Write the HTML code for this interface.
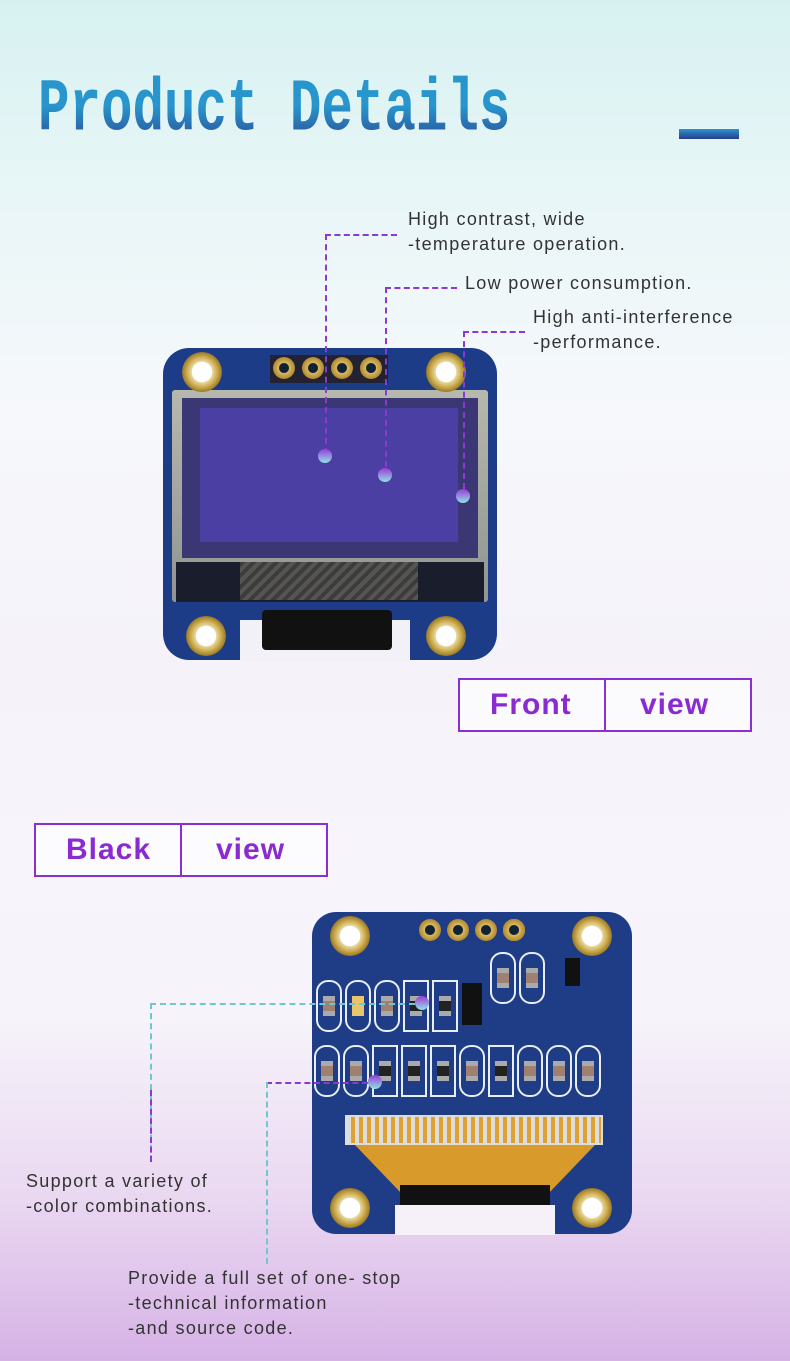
<!DOCTYPE html>
<html><head><meta charset="utf-8"><style>
*{margin:0;padding:0;box-sizing:border-box}
body{width:790px;height:1361px;position:relative;overflow:hidden;font-family:"Liberation Sans",sans-serif;
background:linear-gradient(180deg,#d7f1f1 0%,#e8f6f7 14%,#f6f8fb 30%,#f5f2f9 50%,#f7f5fb 62%,#f6f3fa 75%,#ead8f1 88%,#d6b2e6 100%)}
.abs{position:absolute}
.title{left:38px;top:68px;font-family:"Liberation Mono",monospace;font-weight:bold;font-size:66px;letter-spacing:0;white-space:nowrap;
background:linear-gradient(180deg,#2896cc 45%,#2a3a8c 100%);-webkit-background-clip:text;color:transparent;transform:scale(0.795,1.12);transform-origin:0 0}
.bar{left:679px;top:129px;width:60px;height:10px;background:linear-gradient(180deg,#2a96cc,#2a3a8c)}
.t{color:#333;font-size:18px;line-height:25px;letter-spacing:1.3px;white-space:nowrap}
.dash{border-color:#8a3ad0;border-style:dashed}
.dot{width:14px;height:14px;border-radius:50%;background:linear-gradient(180deg,#9b3bd6,#8fe1e6)}
.box{border:2px solid #8a30d0;height:54px;background:rgba(255,255,255,.6)}
.box span{position:absolute;top:8px;font-size:30px;font-weight:bold;color:#8a2ad0;letter-spacing:1px}
.hole{width:40px;height:40px;border-radius:50%;background:radial-gradient(circle,#fff 0 35%,#e8d9a0 37%,#c9a84a 55%,#9b7a2a 70%,#1e3d86 72%)}
.pin{width:22px;height:22px;border-radius:50%;background:radial-gradient(circle,#123 0 30%,#d8b860 34%,#b08a30 70%,#1e3d86 74%)}
.comp{width:26px;height:52px;border:2px solid #e8eef5;border-radius:12px;background:#1e3d86}
.comp i{position:absolute;left:5px;top:14px;width:12px;height:20px;background:#a08070;border-top:5px solid #aaa;border-bottom:5px solid #aaa}
</style></head><body>
<div class="abs title">Product Details</div>
<div class="abs bar"></div>

<div class="abs t" style="left:408px;top:207px">High contrast, wide<br>-temperature operation.</div>
<div class="abs t" style="left:465px;top:271px">Low power consumption.</div>
<div class="abs t" style="left:533px;top:305px">High anti-interference<br>-performance.</div>

<div class="abs" style="left:163px;top:348px;width:334px;height:312px;background:#1c3c88;border-radius:26px"></div>
<div class="abs" style="left:240px;top:620px;width:170px;height:42px;background:#f3f1f8"></div>
<div class="abs" style="left:262px;top:610px;width:130px;height:40px;background:#111;border-radius:4px"></div>
<div class="abs" style="left:172px;top:390px;width:316px;height:212px;background:linear-gradient(180deg,#b7b8ae,#8f9590);border-radius:3px"></div>
<div class="abs" style="left:182px;top:398px;width:296px;height:160px;background:#3b3774"></div>
<div class="abs" style="left:200px;top:408px;width:258px;height:134px;background:#4c3fa4"></div>
<div class="abs" style="left:176px;top:562px;width:308px;height:40px;background:#1a1e2c"></div>
<div class="abs" style="left:240px;top:562px;width:178px;height:38px;background:repeating-linear-gradient(135deg,#3d3c38 0 4px,#555 4px 8px)"></div>
<div class="abs hole" style="left:182px;top:352px"></div>
<div class="abs hole" style="left:426px;top:352px"></div>
<div class="abs hole" style="left:186px;top:616px"></div>
<div class="abs hole" style="left:426px;top:616px"></div>
<div class="abs" style="left:270px;top:355px;width:118px;height:28px;background:#223"></div>
<div class="abs pin" style="left:273px;top:357px"></div>
<div class="abs pin" style="left:302px;top:357px"></div>
<div class="abs pin" style="left:331px;top:357px"></div>
<div class="abs pin" style="left:360px;top:357px"></div>

<div class="abs dash" style="left:325px;top:234px;width:72px;height:220px;border-width:2px 0 0 2px"></div>
<div class="abs dash" style="left:385px;top:287px;width:72px;height:180px;border-width:2px 0 0 2px"></div>
<div class="abs dash" style="left:463px;top:331px;width:62px;height:158px;border-width:2px 0 0 2px"></div>
<div class="abs dot" style="left:318px;top:449px"></div>
<div class="abs dot" style="left:378px;top:468px"></div>
<div class="abs dot" style="left:456px;top:489px"></div>

<div class="abs box" style="left:458px;top:678px;width:148px"><span style="left:30px">Front</span></div>
<div class="abs box" style="left:604px;top:678px;width:148px"><span style="left:34px">view</span></div>
<div class="abs box" style="left:34px;top:823px;width:148px"><span style="left:30px">Black</span></div>
<div class="abs box" style="left:180px;top:823px;width:148px"><span style="left:34px">view</span></div>

<div class="abs" style="left:312px;top:912px;width:320px;height:322px;background:#1e3d86;border-radius:24px"></div>
<div class="abs hole" style="left:330px;top:916px"></div>
<div class="abs hole" style="left:572px;top:916px"></div>
<div class="abs hole" style="left:330px;top:1188px"></div>
<div class="abs hole" style="left:572px;top:1188px"></div>
<div class="abs pin" style="left:419px;top:919px"></div>
<div class="abs pin" style="left:447px;top:919px"></div>
<div class="abs pin" style="left:475px;top:919px"></div>
<div class="abs pin" style="left:503px;top:919px;border-radius:3px"></div>
<div class="abs" style="left:316px;top:980px;width:150px;height:60px">
<div class="abs comp" style="left:0;top:0"><i></i></div><div class="abs comp" style="left:29px;top:0"><i style="background:#e7c56a;border-color:#e7c56a"></i></div><div class="abs comp" style="left:58px;top:0"><i></i></div><div class="abs comp" style="left:87px;top:0;border-radius:0"><i style="background:#222"></i></div><div class="abs comp" style="left:116px;top:0;border-radius:0"><i style="background:#222"></i></div></div>
<div class="abs" style="left:462px;top:983px;width:20px;height:42px;background:#111"></div>
<div class="abs comp" style="left:490px;top:952px"><i></i></div>
<div class="abs comp" style="left:519px;top:952px"><i></i></div>
<div class="abs" style="left:565px;top:958px;width:15px;height:28px;background:#111"></div>
<div class="abs" style="left:314px;top:1045px;width:290px;height:60px">
<div class="abs comp" style="left:0"><i></i></div><div class="abs comp" style="left:29px"><i></i></div><div class="abs comp" style="left:58px;border-radius:0"><i style="background:#222"></i></div><div class="abs comp" style="left:87px;border-radius:0"><i style="background:#222"></i></div><div class="abs comp" style="left:116px;border-radius:0"><i style="background:#222"></i></div><div class="abs comp" style="left:145px"><i></i></div><div class="abs comp" style="left:174px;border-radius:0"><i style="background:#222"></i></div><div class="abs comp" style="left:203px"><i></i></div><div class="abs comp" style="left:232px"><i></i></div><div class="abs comp" style="left:261px"><i></i></div></div>
<div class="abs" style="left:345px;top:1115px;width:258px;height:30px;background:repeating-linear-gradient(90deg,#ddd 0 4px,#e0a030 4px 8px);border:2px solid #ddd"></div>
<div class="abs" style="left:355px;top:1145px;width:240px;height:50px;background:#d89a2a;clip-path:polygon(0 0,100% 0,80% 100%,20% 100%)"></div>
<div class="abs" style="left:400px;top:1185px;width:150px;height:22px;background:#111"></div>
<div class="abs" style="left:395px;top:1205px;width:160px;height:30px;background:#f6f0f8"></div>

<div class="abs" style="left:150px;top:1003px;width:265px;height:158px;border-style:dashed;border-color:#70c8cf;border-width:2px 0 0 2px"></div>
<div class="abs" style="left:150px;top:1090px;height:72px;border-left:2px dashed #8a3ad0"></div>
<div class="abs" style="left:266px;top:1082px;width:102px;border-top:2px dashed #8a3ad0"></div>
<div class="abs" style="left:266px;top:1082px;height:182px;border-left:2px dashed #70c8cf"></div>
<div class="abs dot" style="left:415px;top:996px"></div>
<div class="abs dot" style="left:368px;top:1075px"></div>

<div class="abs t" style="left:26px;top:1169px">Support a variety of<br>-color combinations.</div>
<div class="abs t" style="left:128px;top:1266px">Provide a full set of one- stop<br>-technical information<br>-and source code.</div>
</body></html>
